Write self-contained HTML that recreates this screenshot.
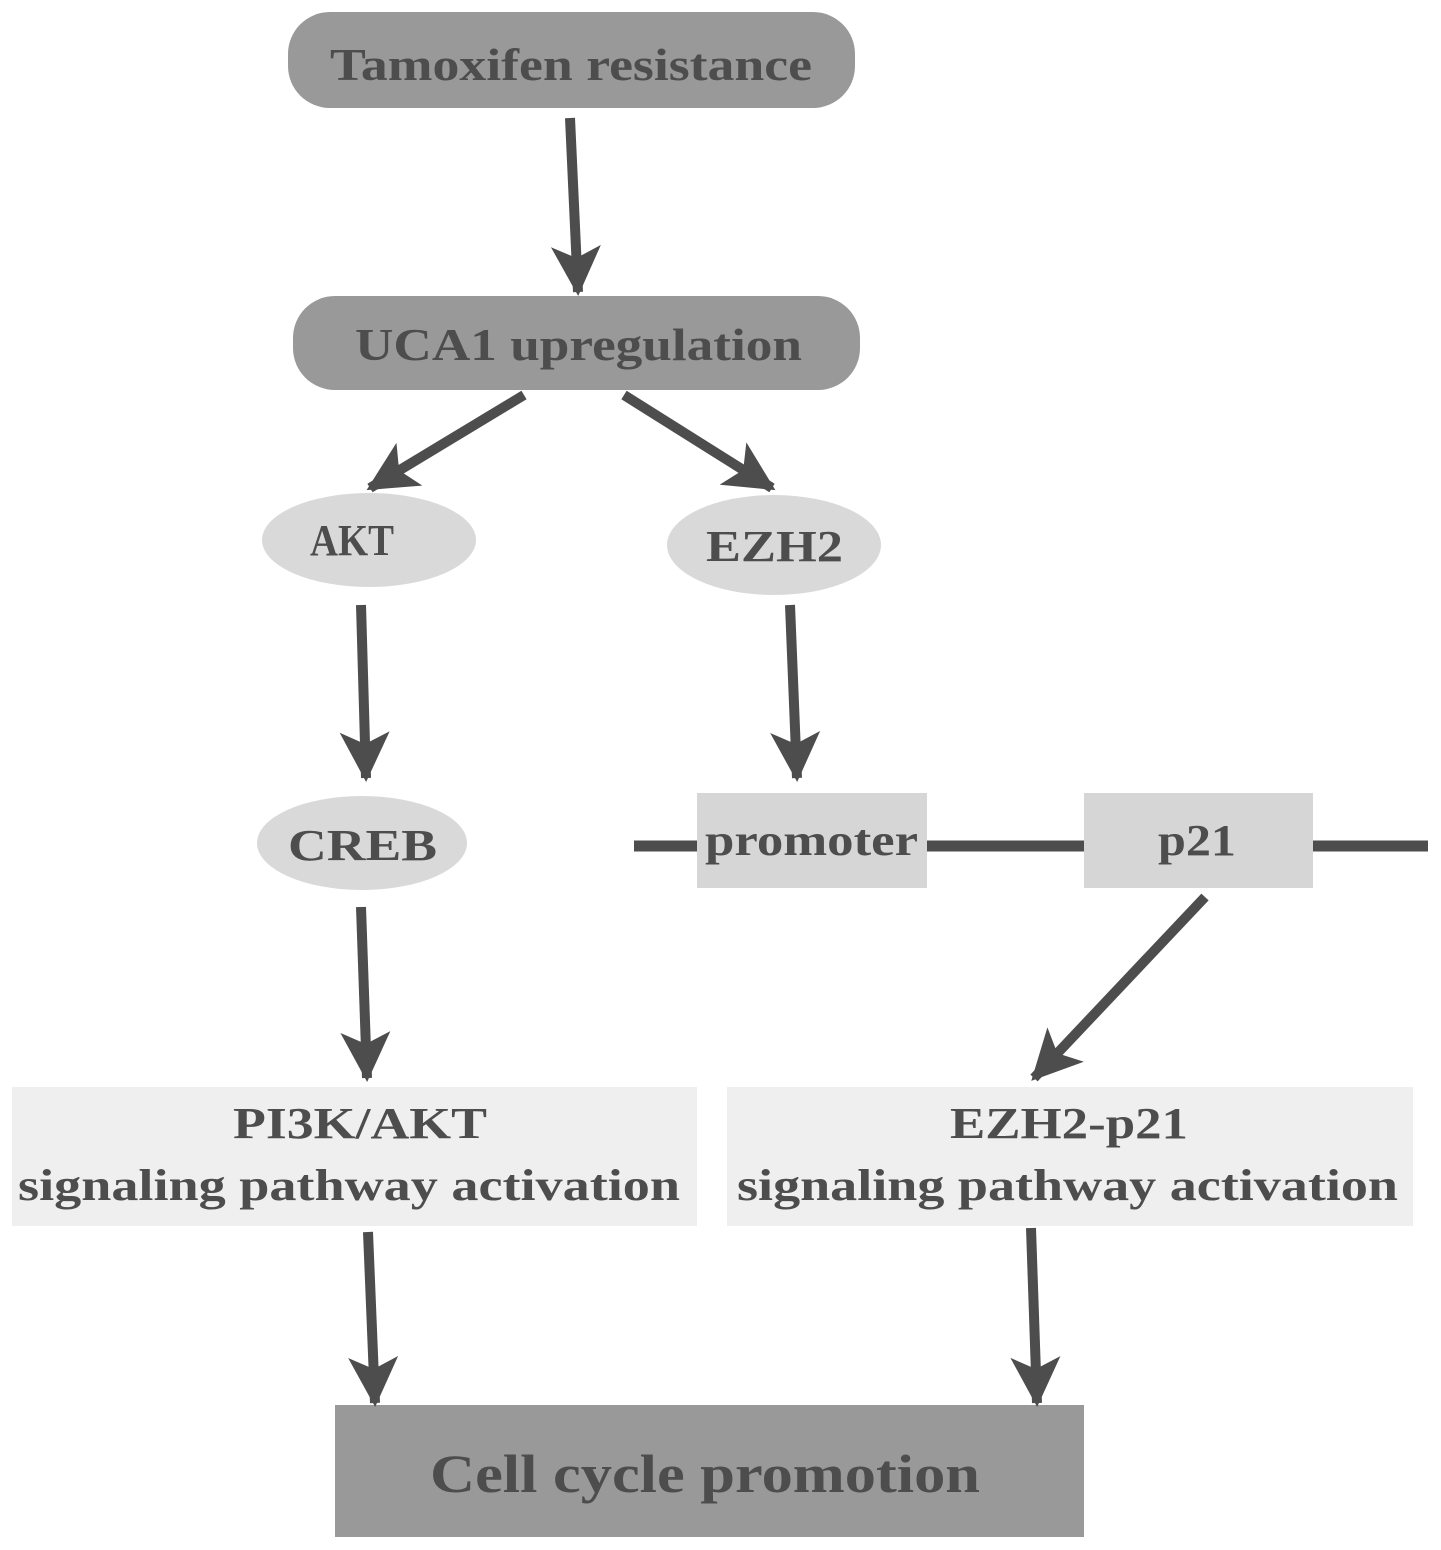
<!DOCTYPE html>
<html><head><meta charset="utf-8"><style>html,body{margin:0;padding:0;background:#fff}svg{display:block}</style></head>
<body>
<svg width="1441" height="1550" viewBox="0 0 1441 1550" xmlns="http://www.w3.org/2000/svg" font-family="Liberation Serif, serif" font-weight="bold" fill="#4d4d4d">
<defs><marker id="a" markerWidth="5" markerHeight="5" refX="4.6" refY="2.5" orient="auto" markerUnits="strokeWidth"><path d="M0,0 L5,2.5 L0,5 L1.2,2.5 Z" fill="#4d4d4d"/></marker></defs>
<rect x="288" y="12" width="567" height="96" rx="42" fill="#999"/>
<text x="330" y="80" font-size="46" textLength="482" lengthAdjust="spacingAndGlyphs">Tamoxifen resistance</text>
<rect x="293" y="296" width="567" height="94" rx="42" fill="#999"/>
<text x="355" y="360" font-size="46" textLength="447" lengthAdjust="spacingAndGlyphs">UCA1 upregulation</text>
<ellipse cx="369" cy="540" rx="107" ry="47" fill="#d9d9d9"/>
<text x="310" y="555" font-size="44" textLength="84" lengthAdjust="spacingAndGlyphs">AKT</text>
<ellipse cx="774" cy="545" rx="107" ry="50" fill="#d9d9d9"/>
<text x="706" y="561" font-size="44" textLength="137" lengthAdjust="spacingAndGlyphs">EZH2</text>
<ellipse cx="362" cy="843" rx="105" ry="47" fill="#d9d9d9"/>
<text x="288" y="860" font-size="44" textLength="149" lengthAdjust="spacingAndGlyphs">CREB</text>
<line x1="634" y1="846" x2="1428" y2="846" stroke="#4d4d4d" stroke-width="11"/>
<rect x="697" y="793" width="230" height="95" fill="#d6d6d6"/>
<text x="705" y="855" font-size="44" textLength="213" lengthAdjust="spacingAndGlyphs">promoter</text>
<rect x="1084" y="793" width="229" height="95" fill="#d6d6d6"/>
<text x="1158" y="855" font-size="44" textLength="78" lengthAdjust="spacingAndGlyphs">p21</text>
<rect x="12" y="1087" width="685" height="139" fill="#efefef"/>
<text x="233" y="1138" font-size="44" textLength="254" lengthAdjust="spacingAndGlyphs">PI3K/AKT</text>
<text x="18" y="1200" font-size="44" textLength="662" lengthAdjust="spacingAndGlyphs">signaling pathway activation</text>
<rect x="727" y="1087" width="686" height="139" fill="#efefef"/>
<text x="950" y="1138" font-size="44" textLength="238" lengthAdjust="spacingAndGlyphs">EZH2-p21</text>
<text x="737" y="1200" font-size="44" textLength="661" lengthAdjust="spacingAndGlyphs">signaling pathway activation</text>
<rect x="335" y="1405" width="749" height="132" fill="#999"/>
<text x="430" y="1492" font-size="54" textLength="550" lengthAdjust="spacingAndGlyphs">Cell cycle promotion</text>
<g stroke="#4d4d4d" stroke-width="10" fill="none" marker-end="url(#a)">
<line x1="570" y1="118" x2="578" y2="292"/>
<line x1="524" y1="395" x2="370" y2="488"/>
<line x1="624" y1="395" x2="772" y2="488"/>
<line x1="361" y1="605" x2="366" y2="778"/>
<line x1="790" y1="605" x2="797" y2="778"/>
<line x1="1205" y1="897" x2="1034" y2="1078"/>
<line x1="361" y1="907" x2="367" y2="1078"/>
<line x1="368" y1="1232" x2="375" y2="1403"/>
<line x1="1031" y1="1228" x2="1037" y2="1403"/>
</g>
</svg>
</body></html>
